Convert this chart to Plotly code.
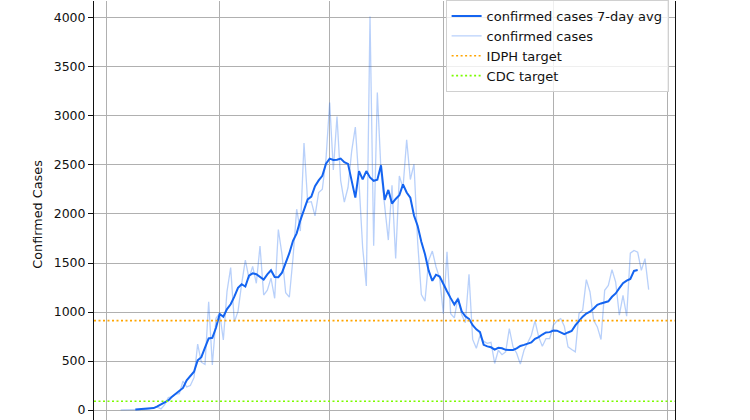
import pandas as pd
import plotly.graph_objects as go

# Daily confirmed cases, 2020-03-05 .. 2020-07-27
raw_start = "2020-03-05"
confirmed_cases = [
    1, 1, 2, 1, 4, 8, 6, 7, 14, 18,
    29, 12, 55, 128, 134, 163, 168, 296, 236, 250,
    330, 673, 488, 465, 1105, 461, 937, 986, 715, 1209,
    1453, 899, 1006, 1287, 1529, 1344, 1465, 1293, 1672, 1173,
    1222, 1346, 1140, 1842, 1585, 1197, 1151, 1551, 2049, 1826,
    2724, 2119, 2126, 1980, 2219, 2253, 2563, 3137, 2450, 2994,
    2341, 2122, 2270, 2641, 2887, 2325, 1656, 1266, 4014, 1677,
    3239, 2432, 2088, 1734, 2294, 1545, 2388, 2268, 2758, 2352,
    2508, 1713, 1178, 1111, 1527, 1622, 1462, 1343, 984, 1614,
    982, 940, 1153, 975, 890, 1385, 720, 630, 760, 700,
    680, 690, 475, 610, 565, 594, 831, 645, 580, 468,
    610, 679, 763, 909, 746, 651, 729, 729, 865, 910,
    933, 855, 645, 618, 594, 984, 1018, 1330, 1204, 916,
    848, 719, 1221, 1272, 1432, 1306, 967, 1170, 957, 1601,
    1628, 1611, 1425, 1544, 1228,
]

# 7-day average, 2020-03-09 .. 2020-07-24
avg_start = "2020-03-09"
confirmed_avg = [
    4.1, 6.0, 8.3, 12.3, 13.4, 20.1, 37.6, 55.7, 77.0, 98.4,
    136.6, 168.6, 196.4, 225.3, 302.3, 348.7, 391.1, 506.7, 538.9, 637.0,
    730.7, 736.7, 839.7, 980.9, 951.4, 1029.3, 1079.3, 1156.9, 1246.7, 1283.3,
    1260.4, 1370.9, 1394.7, 1385.4, 1359.3, 1330.1, 1384.0, 1425.7, 1357.9, 1354.7,
    1401.7, 1502.1, 1600.1, 1726.1, 1802.4, 1935.1, 2053.6, 2149.0, 2178.1, 2283.4,
    2342.4, 2389.7, 2513.7, 2565.3, 2551.4, 2553.9, 2565.0, 2529.3, 2511.4, 2320.3,
    2166.7, 2437.0, 2352.3, 2437.7, 2372.7, 2338.9, 2350.0, 2496.9, 2144.1, 2245.7,
    2107.0, 2153.6, 2191.3, 2301.9, 2218.9, 2166.4, 1984.0, 1878.1, 1715.9, 1588.7,
    1422.3, 1318.1, 1380.4, 1362.0, 1278.1, 1211.1, 1141.6, 1076.9, 1134.1, 1006.4,
    956.1, 930.4, 865.7, 823.6, 795.0, 665.0, 649.3, 640.0, 616.3, 635.0,
    630.0, 614.3, 613.3, 613.3, 629.6, 653.7, 664.9, 679.3, 689.4, 726.7,
    743.7, 770.3, 791.3, 794.7, 810.3, 809.4, 793.6, 774.3, 791.3, 806.7,
    863.4, 913.3, 952.0, 984.9, 1002.7, 1036.6, 1072.9, 1087.4, 1102.0, 1109.3,
    1155.3, 1189.3, 1243.6, 1294.4, 1320.0, 1337.0, 1419.4, 1427.7,
]

idph_target = 912
cdc_target = 90

y_ticks = [0, 500, 1000, 1500, 2000, 2500, 3000, 3500, 4000]

raw_dates = pd.date_range(raw_start, periods=len(confirmed_cases), freq="D")
avg_dates = pd.date_range(avg_start, periods=len(confirmed_avg), freq="D")

FONT = "DejaVu Sans"
BLUE = "rgb(20,100,240)"

fig = go.Figure()
fig.add_trace(go.Scatter(
    x=raw_dates, y=confirmed_cases, mode="lines", name="confirmed cases",
    line=dict(color="rgba(20,100,240,0.3)", width=1.3), legendrank=2,
))
fig.add_trace(go.Scatter(
    x=avg_dates, y=confirmed_avg, mode="lines", name="confirmed cases 7-day avg",
    line=dict(color=BLUE, width=2), legendrank=1,
))

fig.add_shape(type="line", xref="paper", x0=0, x1=1, yref="y",
              y0=idph_target, y1=idph_target,
              line=dict(color="#FFA500", width=1.6, dash="2px,2.5px"),
              showlegend=True, name="IDPH target", legendrank=3)
fig.add_shape(type="line", xref="paper", x0=0, x1=1, yref="y",
              y0=cdc_target, y1=cdc_target,
              line=dict(color="#7CFC00", width=1.6, dash="2px,2.5px"),
              showlegend=True, name="CDC target", legendrank=4)

fig.add_annotation(text="Confirmed Cases", xref="paper", yref="y", x=0, y=2000,
                   xanchor="center", yanchor="middle", xshift=-56.3, textangle=-90,
                   showarrow=False, font=dict(family=FONT, size=12.8, color="#111"))

fig.update_layout(
    width=750, height=420,
    margin=dict(l=94, r=75, t=0, b=0),
    plot_bgcolor="white", paper_bgcolor="white",
    font=dict(family=FONT, size=12.5, color="#111"),
    showlegend=True,
    legend=dict(
        x=0.989, y=1.0023, xanchor="right", yanchor="top",
        bgcolor="rgba(255,255,255,0.8)", bordercolor="#d0d0d0", borderwidth=1,
        font=dict(family=FONT, size=13, color="#111"),
        tracegroupgap=0, itemwidth=30,
    ),
    xaxis=dict(
        type="date",
        range=["2020-02-26 17:27", "2020-08-03 04:22"],
        tick0="2020-03-01", dtick="M1",
        showticklabels=False, ticks="",
        showgrid=True, gridcolor="#b0b0b0", gridwidth=0.8,
        showline=False, zeroline=False,
    ),
    yaxis=dict(
        range=[-101.8, 4173],
        tickmode="array", tickvals=y_ticks, ticktext=[str(v) for v in y_ticks],
        ticks="outside", ticklen=5, tickwidth=0.8, tickcolor="#111",
        showgrid=True, gridcolor="#b0b0b0", gridwidth=0.8,
        showline=True, mirror=True, linecolor="#111", linewidth=1,
        zeroline=False,
        tickfont=dict(family=FONT, size=12.5, color="#111"),
    ),
)

fig.write_html("out.html", config={"displayModeBar": False},
               post_script="document.body.style.margin='0';")
